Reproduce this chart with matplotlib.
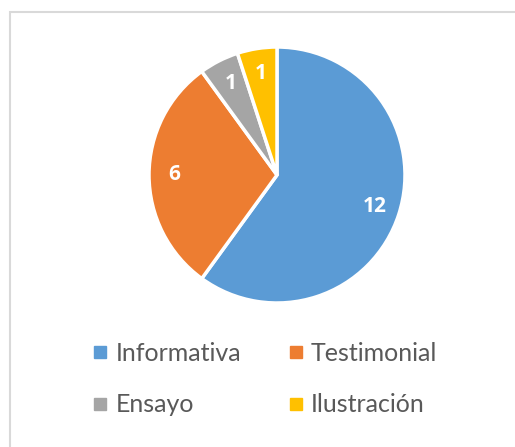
import matplotlib.pyplot as plt
from matplotlib.lines import Line2D
from matplotlib.patches import Rectangle

categories = ["Informativa", "Testimonial", "Ensayo", "Ilustración"]
values = [12, 6, 1, 1]
colors = ["#5B9BD5", "#ED7D31", "#A5A5A5", "#FFC000"]

W, H = 515, 447
fig = plt.figure(figsize=(W / 100, H / 100), dpi=100)
fig.patch.set_facecolor("white")

# light gray chart-area border (right/bottom run off the image)
fig.patches.append(Rectangle((10 / W, -0.1), 1.2, 1.1 - 12 / H,
                             transform=fig.transFigure, fill=False,
                             edgecolor="#D9D9D9", linewidth=1.5))

# pie: center (277,175) px, radius 128 px
cx, cy, r = 277, 175, 128
ax = fig.add_axes([(cx - r) / W, (H - cy - r) / H, 2 * r / W, 2 * r / H])
wedges, texts, autotexts = ax.pie(
    values, colors=colors, startangle=90, counterclock=False, radius=1,
    autopct=lambda p: "%d" % round(p * sum(values) / 100),
    pctdistance=0.8,
    wedgeprops=dict(edgecolor="white", linewidth=2.5))
for t in autotexts:
    t.set_color("white")
    t.set_fontsize(15)
    t.set_fontweight("bold")
    t.set_family("Open Sans")
ax.set_xlim(-1, 1)
ax.set_ylim(-1, 1)
ax.set_aspect("equal")
ax.axis("off")

# legend, two rows: Informativa / Testimonial, Ensayo / Ilustración
order = [0, 2, 1, 3]
handles = [Line2D([], [], marker="s", linestyle="none", markersize=9,
                  markerfacecolor=colors[i], markeredgecolor=colors[i]) for i in order]
labels = [categories[i] for i in order]
leg = fig.legend(handles, labels, ncol=2, loc="center", bbox_to_anchor=(0.515, 1 - 379 / H),
                 frameon=False, labelcolor="#595959",
                 handlelength=0.6, handletextpad=0.3, columnspacing=1.9,
                 labelspacing=1.15, prop={"family": "Lato", "size": 18})

fig.savefig("out.png", dpi=100)
